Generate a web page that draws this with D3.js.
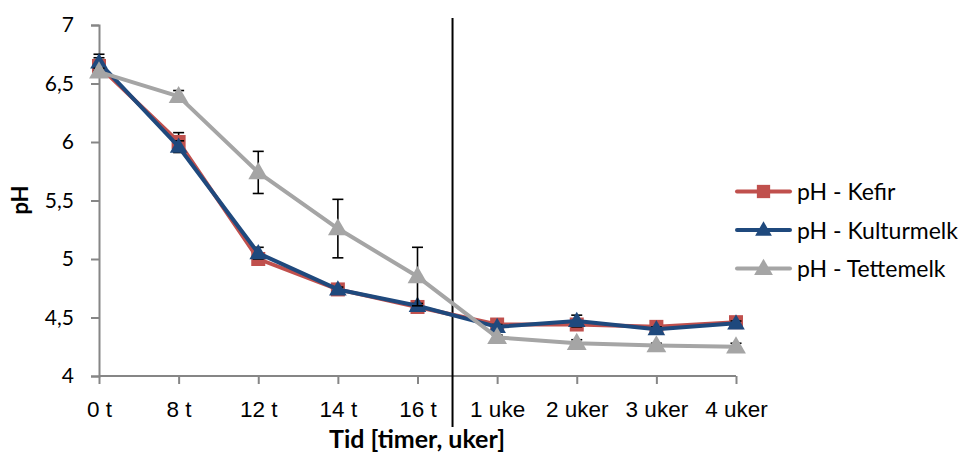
<!DOCTYPE html>
<html>
<head>
<meta charset="utf-8">
<script src="https://cdn.jsdelivr.net/npm/d3@7"></script>
<style>
  html, body { margin: 0; padding: 0; background: #fff; }
  svg { display: block; font-family: Lato, "Open Sans", "Liberation Sans", sans-serif; }
</style>
</head>
<body>
<svg id="chart" width="966" height="455"></svg>
<script>
// Time points (hours, then weeks)
const categories = ["0 t", "8 t", "12 t", "14 t", "16 t", "1 uke", "2 uker", "3 uker", "4 uker"];

// pH measurements per product
const kefir       = [6.65, 6.00, 5.00, 4.74, 4.59, 4.44, 4.44, 4.42, 4.46];
const kulturmelk  = [6.68, 5.96, 5.05, 4.74, 4.60, 4.42, 4.47, 4.40, 4.45];
const tettemelk   = [6.60, 6.39, 5.74, 5.26, 4.85, 4.33, 4.28, 4.26, 4.25];

// Standard deviations (error bars)
const kefirErr      = [0.07, 0.08, 0.04, 0.02, 0.02, 0.02, 0.02, 0.02, 0.02];
const kulturmelkErr = [0.07, 0.05, 0.05, 0.02, 0.02, 0.02, 0.05, 0.02, 0.02];
const tettemelkErr  = [0.03, 0.05, 0.18, 0.25, 0.25, 0.02, 0.03, 0.02, 0.03];

const yTicks = [4, 4.5, 5, 5.5, 6, 6.5, 7];

const seriesNames = ["pH - Kefir", "pH - Kulturmelk", "pH - Tettemelk"];
const seriesColors = ["#C0504D", "#1F497D", "#A5A5A5"];
const seriesMarkers = ["square", "triangle", "triangle"];
const markerAreas = [196, 135, 170];

const series = seriesNames.map((name, i) => ({
  name,
  values: [kefir, kulturmelk, tettemelk][i],
  err: [kefirErr, kulturmelkErr, tettemelkErr][i],
  color: seriesColors[i],
  marker: seriesMarkers[i],
  area: markerAreas[i]
}));

const svg = d3.select("#chart");
const plotLeft = 99, plotRight = 736, plotTop = 25, plotBottom = 376;

const x = d3.scalePoint().domain(categories).range([plotLeft, plotRight]);
const y = d3.scaleLinear().domain([4, 7]).range([plotBottom, plotTop]);

const axisColor = "#868686";
const fmt = v => String(v).replace(".", ",");

// Y axis
const yAxis = svg.append("g")
  .attr("transform", `translate(${plotLeft},0)`)
  .call(d3.axisLeft(y).tickValues(yTicks).tickSize(8).tickPadding(17).tickFormat(fmt));
yAxis.select(".domain").attr("stroke", axisColor).attr("stroke-width", 2);
yAxis.selectAll(".tick line").attr("stroke", axisColor).attr("stroke-width", 2);
yAxis.selectAll(".tick text")
  .attr("font-size", 21).attr("fill", "#000")
  .attr("font-family", "Lato, 'Open Sans', sans-serif");

// X axis
const xAxis = svg.append("g")
  .attr("transform", `translate(0,${plotBottom})`)
  .call(d3.axisBottom(x).tickSize(8).tickSizeOuter(0).tickPadding(0).tickFormat(() => ""));
xAxis.select(".domain").attr("stroke", axisColor).attr("stroke-width", 2)
  .attr("d", `M${plotLeft},0H${plotRight}`);
xAxis.selectAll(".tick line").attr("stroke", axisColor).attr("stroke-width", 2);
xAxis.selectAll(".tick").append("text")
  .attr("y", 41)
  .attr("text-anchor", "middle")
  .attr("font-size", 22.5)
  .attr("fill", "#000")
  .text(d => d);

// Divider between hours and weeks
const divX = x("16 t") + (x("1 uke") - x("16 t")) * 0.44;
svg.append("line")
  .attr("x1", divX).attr("x2", divX)
  .attr("y1", 18).attr("y2", 427)
  .attr("stroke", "#000").attr("stroke-width", 2);

// Axis titles
svg.append("text")
  .attr("x", 417).attr("y", 448)
  .attr("text-anchor", "middle")
  .attr("font-size", 25).attr("font-weight", "bold")
  .text("Tid [timer, uker]");
svg.append("text")
  .attr("transform", "translate(28,200) rotate(-90)")
  .attr("text-anchor", "middle")
  .attr("font-size", 22).attr("font-weight", "bold")
  .text("pH");

const line = d3.line().x((d, i) => x(categories[i])).y(d => y(d));

function drawMarker(g, s, cx, cy, scale = 1) {
  if (s.marker === "square") {
    const h = Math.sqrt(s.area * scale) / 2;
    g.append("rect")
      .attr("x", cx - h).attr("y", cy - h)
      .attr("width", 2 * h).attr("height", 2 * h)
      .attr("fill", s.color);
  } else {
    g.append("path")
      .attr("d", d3.symbol().type(d3.symbolTriangle).size(s.area * scale)())
      .attr("transform", `translate(${cx},${cy + 1})`)
      .attr("fill", s.color);
  }
}

series.forEach(s => {
  const g = svg.append("g");
  // Error bars
  s.values.forEach((v, i) => {
    const cx = x(categories[i]);
    const e = s.err[i];
    const eb = g.append("g").attr("stroke", "#000").attr("stroke-width", 1.6);
    eb.append("line").attr("x1", cx).attr("x2", cx).attr("y1", y(v - e)).attr("y2", y(v + e));
    eb.append("line").attr("x1", cx - 5.5).attr("x2", cx + 5.5).attr("y1", y(v + e)).attr("y2", y(v + e));
    eb.append("line").attr("x1", cx - 5.5).attr("x2", cx + 5.5).attr("y1", y(v - e)).attr("y2", y(v - e));
  });
  g.append("path")
    .datum(s.values)
    .attr("d", line)
    .attr("fill", "none")
    .attr("stroke", s.color)
    .attr("stroke-width", 4)
    .attr("stroke-linejoin", "round");
  s.values.forEach((v, i) => drawMarker(g, s, x(categories[i]), y(v)));
});

// Legend
const legend = svg.append("g");
series.forEach((s, i) => {
  const ly = 191.5 + i * 38.5;
  legend.append("line")
    .attr("x1", 737).attr("x2", 790)
    .attr("y1", ly).attr("y2", ly)
    .attr("stroke", s.color).attr("stroke-width", 4).attr("stroke-linecap", "round");
  drawMarker(legend, s, 763.5, ly, 0.9);
  legend.append("text")
    .attr("x", 797).attr("y", ly + 8.5)
    .attr("font-size", 23)
    .attr("fill", "#000")
    .text(s.name);
});
</script>
</body>
</html>
